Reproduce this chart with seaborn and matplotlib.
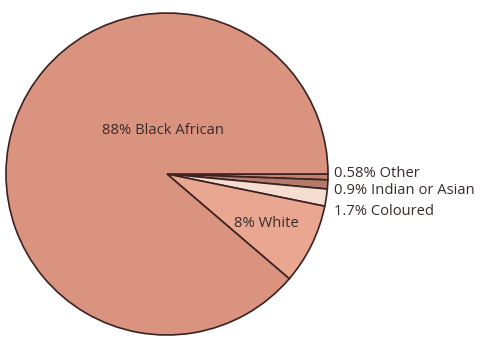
import matplotlib
matplotlib.use("Agg")
import matplotlib.pyplot as plt
import seaborn as sns

categories = ["Other", "Indian or Asian", "Coloured", "White", "Black African"]
values = [0.58, 0.9, 1.7, 8, 88]
labels = ["0.58% Other", "0.9% Indian or Asian", "1.7% Coloured", "8% White", "88% Black African"]
colors = ["#C4806F", "#B57A6A", "#F6DDD2", "#E9A690", "#D9937F"]

sns.set_theme(style="white")
plt.rcParams['font.family'] = ['Open Sans', 'DejaVu Sans']

W, H = 481, 343
fig = plt.figure(figsize=(W / 100, H / 100), dpi=100)
cx, cy, r = 167, 174, 161
ax = fig.add_axes([(cx - r) / W, (H - cy - r) / H, 2 * r / W, 2 * r / H])
ax.pie(values, colors=colors, startangle=0, counterclock=False,
       wedgeprops=dict(edgecolor="#3B2222", linewidth=1.2), radius=1.0)
ax.set_xlim(-1, 1)
ax.set_ylim(-1, 1)
ax.set_aspect("auto")
ax.axis("off")

tc = "#3A2B2B"
fs = 10.6
ax.text(-0.025, 0.27, labels[4], ha="center", va="center", fontsize=fs, color=tc)
ax.text(0.62, -0.305, labels[3], ha="center", va="center", fontsize=fs, color=tc)
outside_y = [0.005, -0.105, -0.235]
for lab, y in zip(labels[:3], outside_y):
    ax.text(1.04, y, lab, ha="left", va="center", fontsize=fs, color=tc, clip_on=False)

fig.savefig("out.png", dpi=100, facecolor="white")
